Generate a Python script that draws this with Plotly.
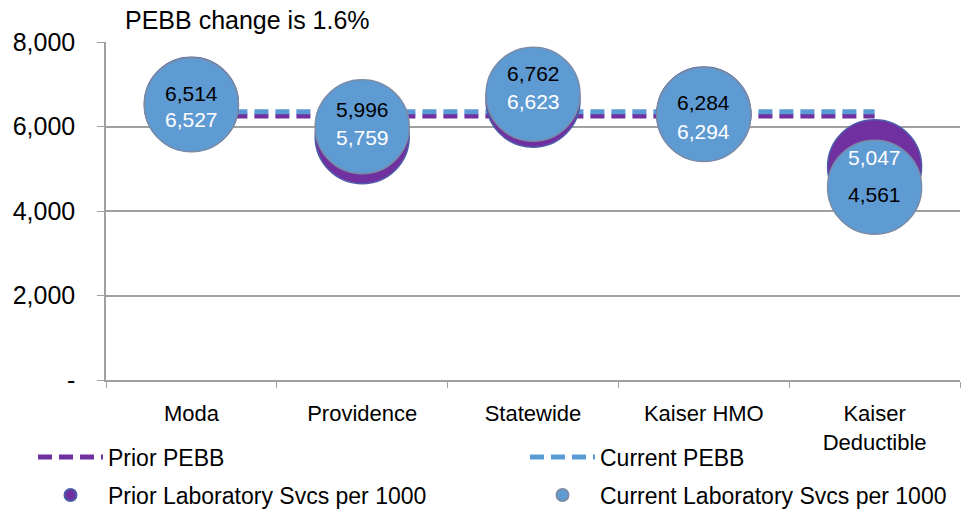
import plotly.graph_objects as go

# ---- data ----
categories = ["Moda", "Providence", "Statewide", "Kaiser HMO", "Kaiser<br>Deductible"]
prior_lab = [6527, 5759, 6623, 6294, 5047]
current_lab = [6514, 5996, 6762, 6284, 4561]
prior_pebb = [6250, 6250, 6250, 6250, 6250]
current_pebb = [6350, 6350, 6350, 6350, 6350]
y_tickvals = [0, 2000, 4000, 6000, 8000]
y_ticktext = ["-", "2,000", "4,000", "6,000", "8,000"]
title_text = "PEBB change is 1.6%"

# ---- style ----
PURPLE = "#7030A0"
BLUE = "#5F9BD3"
FONT = "Liberation Sans, Arial, sans-serif"
label_shift_current = [11, 17, 21, 12, -7]
label_shift_prior = [-15, -1, -1, -17, 9]
BUBBLE = 94

fig = go.Figure()
fig.add_trace(go.Scatter(
    x=categories, y=prior_pebb, mode="lines", name="Prior PEBB",
    line=dict(color=PURPLE, width=5, dash="14px,7px"), legend="legend"))
fig.add_trace(go.Scatter(
    x=categories, y=current_pebb, mode="lines", name="Current PEBB",
    line=dict(color="#5B9BD5", width=5, dash="14px,7px"), legend="legend2"))
fig.add_trace(go.Scatter(
    x=categories, y=prior_lab, mode="markers", name="Prior Laboratory Svcs per 1000",
    marker=dict(color=PURPLE, size=BUBBLE, opacity=1, line=dict(color="#4B5DA8", width=1.5)),
    legend="legend3"))
fig.add_trace(go.Scatter(
    x=categories, y=current_lab, mode="markers", name="Current Laboratory Svcs per 1000",
    marker=dict(color=BLUE, size=BUBBLE, opacity=1, line=dict(color="#7A8BA6", width=1.5)),
    legend="legend4"))

annotations = []
for c, v, s in zip(categories, current_lab, label_shift_current):
    annotations.append(dict(x=c, y=v, text=f"{v:,}", showarrow=False, yshift=s,
                            font=dict(family=FONT, size=21, color="black")))
for c, v, s in zip(categories, prior_lab, label_shift_prior):
    annotations.append(dict(x=c, y=v, text=f"{v:,}", showarrow=False, yshift=s,
                            font=dict(family=FONT, size=21, color="white")))

legend_common = dict(orientation="h", xanchor="left", yanchor="middle",
                     font=dict(family=FONT, size=23, color="black"),
                     bgcolor="rgba(0,0,0,0)", itemsizing="constant", itemwidth=65)

col1_x = (33 - 106) / 854
col2_x = (525 - 106) / 854
row1_y = (380 - 457) / 338
row2_y = (380 - 495) / 338

fig.update_layout(
    width=965, height=510,
    margin=dict(l=106, r=5, t=42, b=130, autoexpand=False),
    paper_bgcolor="white", plot_bgcolor="white",
    font=dict(family=FONT, color="black"),
    title=dict(text=title_text, x=125 / 965, xanchor="left", xref="container",
               y=1 - 20 / 510, yanchor="middle", yref="container",
               font=dict(family=FONT, size=25, color="black")),
    xaxis=dict(type="category", range=[-0.5, 4.5], tickson="boundaries",
               ticks="outside", ticklen=6, tickcolor="#A0A0A0",
               showline=True, linecolor="#A0A0A0", linewidth=1.5,
               showgrid=False, tickfont=dict(family=FONT, size=22, color="black"),
               ticklabelstandoff=13),
    yaxis=dict(range=[0, 8000], tickvals=y_tickvals, ticktext=y_ticktext,
               ticks="outside", ticklen=7, tickcolor="#A0A0A0",
               showline=True, linecolor="#A0A0A0", linewidth=1.5,
               showgrid=True, gridcolor="#A0A0A0", gridwidth=1.5, zeroline=False,
               tickfont=dict(family=FONT, size=25, color="black"),
               ticklabelstandoff=17),
    legend=dict(x=col1_x, y=row1_y, **legend_common),
    legend2=dict(x=col2_x, y=row1_y, **legend_common),
    legend3=dict(x=col1_x, y=row2_y, **legend_common),
    legend4=dict(x=col2_x, y=row2_y, **legend_common),
    annotations=annotations,
    showlegend=True,
)

fig.write_html("out.html", config={"displayModeBar": False},
               post_script="document.body.style.margin='0';")
